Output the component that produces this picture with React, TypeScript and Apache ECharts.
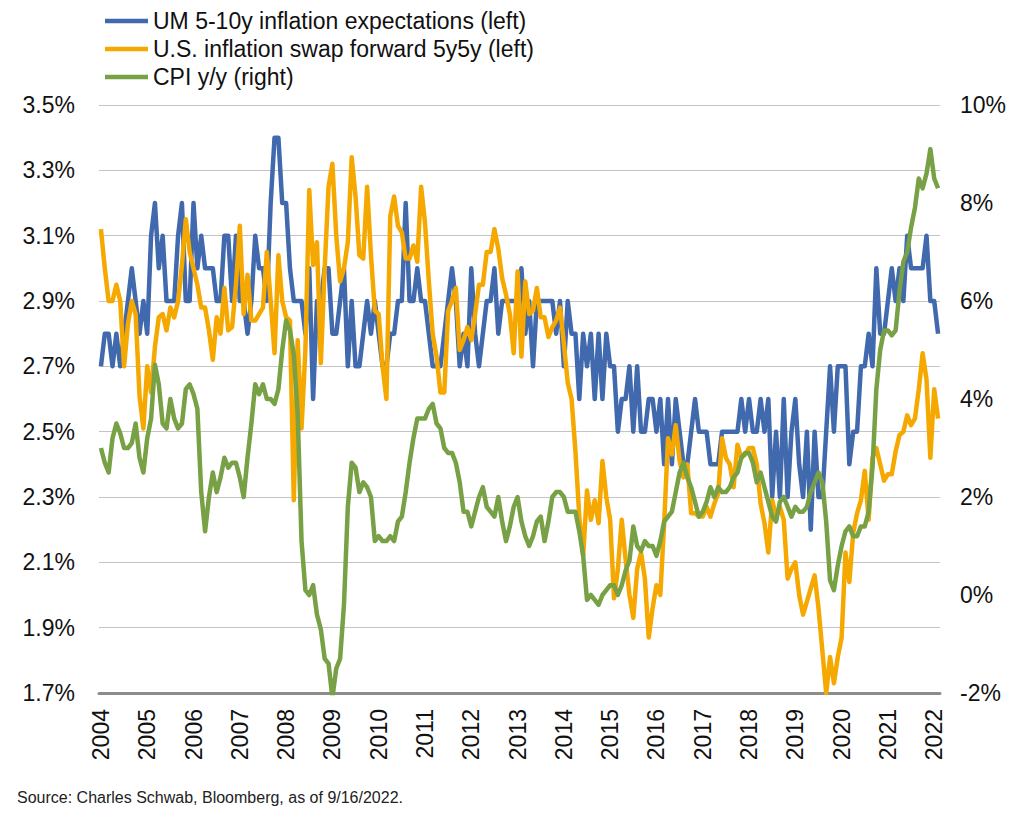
import React, { useEffect, useRef } from "react";
import * as echarts from "echarts";

// Monthly categories, Jul 2004 .. Aug 2022 (218 months)
const START_YEAR = 2004;
const START_MONTH = 7;
const MONTH_COUNT = 218;
const categories: string[] = [];
for (let k = 0; k < MONTH_COUNT; k++) {
  const m = START_MONTH - 1 + k;
  const y = START_YEAR + Math.floor(m / 12);
  const mm = (m % 12) + 1;
  categories.push(`${y}-${mm < 10 ? "0" + mm : mm}`);
}

const leftTicks = { min: 1.7, max: 3.5, interval: 0.2 };
const rightTicks = { min: -2, max: 10, interval: 2 };

// UM 5-10y inflation expectations (left axis, %)
const umExpectations: number[] = [
  2.7, 2.8, 2.8, 2.7, 2.8, 2.7, 2.8, 2.9, 3.0, 2.9,
  2.8, 2.9, 2.8, 3.1, 3.2, 3.0, 3.1, 2.9, 2.9, 2.9,
  3.1, 3.2, 2.9, 2.9, 3.2, 3.0, 3.1, 3.0, 3.0, 3.0,
  2.9, 2.9, 3.1, 3.1, 2.9, 3.1, 2.9, 2.9, 2.8, 2.9,
  3.1, 3.0, 3.0, 2.9, 3.2, 3.4, 3.4, 3.2, 3.2, 3.0,
  2.9, 2.9, 2.9, 2.8, 3.0, 2.6, 2.9, 2.9, 3.0, 3.0,
  2.8, 2.8, 2.9, 3.0, 2.7, 2.9, 2.7, 2.7, 2.8, 2.9,
  2.8, 2.9, 2.8, 2.7, 2.7, 2.8, 2.8, 2.9, 2.9, 3.2,
  2.9, 2.9, 3.0, 2.9, 2.9, 2.8, 2.7, 2.7, 2.7, 2.8,
  2.9, 3.0, 2.9, 2.7, 2.8, 2.7, 3.0, 2.8, 2.7, 2.8,
  2.9, 2.9, 3.0, 2.8, 2.9, 2.9, 2.9, 2.9, 2.9, 3.0,
  2.8, 2.9, 2.7, 2.9, 2.9, 2.9, 2.9, 2.9, 2.8, 2.9,
  2.7, 2.9, 2.8, 2.8, 2.6, 2.8, 2.7, 2.8, 2.6,
  2.8, 2.6, 2.8, 2.7, 2.7, 2.5, 2.6, 2.6, 2.7, 2.5,
  2.7, 2.5, 2.5, 2.6, 2.6, 2.5, 2.6, 2.4, 2.6, 2.4,
  2.6, 2.5, 2.4, 2.4, 2.5, 2.6, 2.5, 2.5, 2.5, 2.4,
  2.4, 2.4, 2.5, 2.5, 2.5, 2.5, 2.5, 2.6, 2.5, 2.6,
  2.5, 2.5, 2.6, 2.5, 2.6, 2.3, 2.5, 2.3, 2.6, 2.3,
  2.5, 2.6, 2.4, 2.3, 2.5, 2.2, 2.5, 2.3, 2.3, 2.5,
  2.7, 2.5, 2.7, 2.7, 2.7, 2.4, 2.5, 2.5, 2.7, 2.7,
  2.8, 2.7, 3.0, 2.8, 2.8, 2.9, 3.0, 2.9, 3.0, 2.9,
  3.1, 3.0, 3.0, 3.0, 3.0, 3.1, 2.9, 2.9, 2.8,
];

// U.S. inflation swap forward 5y5y (left axis, %)
const swap5y5y: number[] = [
  3.12, 3.0, 2.9, 2.9, 2.95, 2.9, 2.7, 2.83, 2.9, 2.86,
  2.61, 2.51, 2.7, 2.62, 2.76, 2.85, 2.86, 2.81, 2.88, 2.85,
  2.9, 3.01, 3.15, 3.05, 3.0, 2.95, 2.88, 2.88, 2.81, 2.72,
  2.85, 2.8, 2.94, 2.81, 2.82, 2.95, 3.13, 2.86, 2.98, 2.84,
  2.84, 2.86, 2.88, 3.05, 2.9, 2.74, 3.04, 2.9, 2.85, 2.84,
  2.29, 2.78, 2.51, 2.75, 3.24, 3.01, 3.08, 2.71, 3.0, 3.25,
  3.32, 3.1, 2.96, 3.0, 3.08, 3.34, 3.22, 3.04, 3.03, 3.25,
  3.04, 2.87, 2.86, 2.7, 2.6, 3.16, 3.22, 3.13, 3.11, 3.03,
  3.03, 3.07, 3.02, 3.25, 3.14, 2.96, 2.8, 2.73, 2.62, 2.62,
  2.87, 2.9, 2.94, 2.75, 2.78, 2.82, 2.78, 2.86, 2.95, 2.95,
  3.05, 3.05, 3.12, 3.06, 2.97, 2.92, 2.86, 2.74, 2.99, 2.73,
  2.96, 2.86, 2.87, 2.94, 2.85, 2.85, 2.79, 2.82, 2.84,
  2.88, 2.77, 2.65, 2.6, 2.44, 2.24, 2.12, 2.32, 2.23, 2.29,
  2.22, 2.41, 2.3, 2.23, 1.99, 2.08, 2.23, 2.11, 2.0, 1.93,
  2.08, 2.13, 2.05, 1.87, 1.96, 2.03, 2.0, 2.22, 2.48, 2.43,
  2.52, 2.41, 2.36, 2.4, 2.25, 2.25, 2.24, 2.24, 2.27, 2.24,
  2.28, 2.31, 2.48, 2.42, 2.4, 2.33, 2.46, 2.42, 2.43, 2.45,
  2.45, 2.4, 2.28, 2.22, 2.13, 2.29, 2.24, 2.27, 2.23, 2.05,
  2.08, 2.1, 2.0, 1.94, 1.98, 2.02, 2.06, 1.96, 1.83, 1.7,
  1.81, 1.73, 1.81, 1.87, 2.13, 2.04, 2.19, 2.25, 2.29, 2.38,
  2.23, 2.42, 2.45, 2.4, 2.35, 2.37, 2.37, 2.44, 2.49, 2.5,
  2.55, 2.52, 2.54, 2.63, 2.74, 2.66, 2.42, 2.63, 2.54,
];

// CPI y/y (right axis, %)
const cpiYoY: number[] = [
  3.0, 2.7, 2.5, 3.2, 3.5, 3.3, 3.0, 3.0, 3.1, 3.5,
  2.8, 2.5, 3.2, 3.6, 4.7, 4.3, 3.5, 3.4, 4.0, 3.6,
  3.4, 3.5, 4.2, 4.3, 4.1, 3.8, 2.1, 1.3, 2.0, 2.5,
  2.1, 2.4, 2.8, 2.6, 2.7, 2.7, 2.4, 2.0, 2.8, 3.5,
  4.3, 4.1, 4.3, 4.0, 4.0, 3.9, 4.2, 5.0, 5.6, 5.4,
  4.9, 3.7, 1.1, 0.1, 0.0, 0.2, -0.4, -0.7, -1.3, -1.4,
  -2.1, -1.5, -1.3, -0.2, 1.8, 2.7, 2.6, 2.1, 2.3, 2.2,
  2.0, 1.1, 1.2, 1.1, 1.1, 1.2, 1.1, 1.5, 1.6, 2.1,
  2.7, 3.2, 3.6, 3.6, 3.6, 3.8, 3.9, 3.5, 3.4, 3.0,
  2.9, 2.9, 2.7, 2.3, 1.7, 1.7, 1.4, 1.7, 2.0, 2.2,
  1.8, 1.7, 1.6, 2.0, 1.5, 1.1, 1.4, 1.8, 2.0, 1.5,
  1.2, 1.0, 1.2, 1.5, 1.6, 1.1, 1.5, 2.0, 2.1, 2.1,
  2.0, 1.7, 1.7, 1.7, 1.3, 0.8, -0.1, 0.0, -0.1, -0.2,
  0.0, 0.1, 0.2, 0.2, 0.0, 0.2, 0.5, 0.7, 1.4, 1.0,
  0.9, 1.1, 1.0, 1.0, 0.8, 1.1, 1.5, 1.6, 1.7, 2.1,
  2.5, 2.7, 2.4, 2.2, 1.9, 1.6, 1.7, 1.9, 2.2, 2.0,
  2.2, 2.1, 2.1, 2.2, 2.4, 2.5, 2.8, 2.9, 2.9, 2.7,
  2.3, 2.5, 2.2, 1.9, 1.6, 1.5, 1.9, 2.0, 1.8, 1.6,
  1.8, 1.7, 1.7, 1.8, 2.1, 2.3, 2.5, 2.3, 1.5, 0.3,
  0.1, 0.6, 1.0, 1.3, 1.4, 1.2, 1.2, 1.4, 1.4, 1.7,
  2.6, 4.2, 5.0, 5.4, 5.4, 5.3, 5.4, 6.2, 6.8, 7.0,
  7.5, 7.9, 8.5, 8.3, 8.6, 9.1, 8.5, 8.3,
];

const seriesNames = [
  "UM 5-10y inflation expectations (left)",
  "U.S. inflation swap forward 5y5y (left)",
  "CPI y/y (right)",
];
const seriesColors = ["#4169AD", "#F5A800", "#77A144"];
const sourceNote = "Source: Charles Schwab, Bloomberg, as of 9/16/2022.";

const FONT = "'Liberation Sans', Arial, sans-serif";
const TEXT = "#111111";

export default function App() {
  const ref = useRef<HTMLDivElement>(null);

  useEffect(() => {
    if (!ref.current) return;
    const chart = echarts.init(ref.current, undefined, { renderer: "svg" });
    const lineSeries = (name: string, data: number[], color: string, yAxisIndex: number) => ({
      name,
      type: "line",
      data,
      yAxisIndex,
      symbol: "none",
      showSymbol: false,
      lineStyle: { width: 4.5, color, join: "round" },
      itemStyle: { color },
      emphasis: { disabled: true },
    });
    chart.setOption({
      animation: false,
      backgroundColor: "#ffffff",
      textStyle: { fontFamily: FONT },
      title: {
        text: sourceNote,
        left: 12,
        top: 784,
        textStyle: { fontFamily: FONT, fontSize: 16, fontWeight: "normal", color: "#222" },
      },
      legend: {
        orient: "vertical",
        left: 100,
        top: 3,
        icon: "rect",
        itemWidth: 43,
        itemHeight: 4.5,
        itemGap: 2,
        selectedMode: false,
        textStyle: { fontFamily: FONT, fontSize: 23, color: TEXT, lineHeight: 26 },
        data: seriesNames,
      },
      grid: { left: 99, right: 87, top: 105, bottom: 127, containLabel: false },
      xAxis: {
        type: "category",
        data: categories,
        boundaryGap: true,
        axisLine: { show: true, onZero: false, lineStyle: { color: "#8C8C8C", width: 3 } },
        axisTick: { show: false },
        splitLine: { show: false },
        axisLabel: {
          interval: (index: number) => index % 12 === 0,
          rotate: 90,
          margin: 16,
          fontFamily: FONT,
          fontSize: 23,
          color: TEXT,
          formatter: (v: string) => v.slice(0, 4),
        },
      },
      yAxis: [
        {
          type: "value",
          position: "left",
          min: leftTicks.min,
          max: leftTicks.max,
          interval: leftTicks.interval,
          axisLine: { show: false },
          axisTick: { show: false },
          splitLine: { show: true, lineStyle: { color: "#C4C4C4", width: 1 } },
          axisLabel: {
            margin: 24,
            fontFamily: FONT,
            fontSize: 23,
            color: TEXT,
            formatter: (v: number) => v.toFixed(1) + "%",
          },
        },
        {
          type: "value",
          position: "right",
          min: rightTicks.min,
          max: rightTicks.max,
          interval: rightTicks.interval,
          axisLine: { show: false },
          axisTick: { show: false },
          splitLine: { show: false },
          axisLabel: {
            margin: 20,
            fontFamily: FONT,
            fontSize: 23,
            color: TEXT,
            formatter: (v: number) => Math.round(v) + "%",
          },
        },
      ],
      series: [
        lineSeries(seriesNames[0], umExpectations, seriesColors[0], 0),
        lineSeries(seriesNames[1], swap5y5y, seriesColors[1], 0),
        lineSeries(seriesNames[2], cpiYoY, seriesColors[2], 1),
      ],
    });
    return () => chart.dispose();
  }, []);

  return (
    <div
      ref={ref}
      style={{ position: "fixed", left: 0, top: 0, width: 1027, height: 820, background: "#fff" }}
    />
  );
}
